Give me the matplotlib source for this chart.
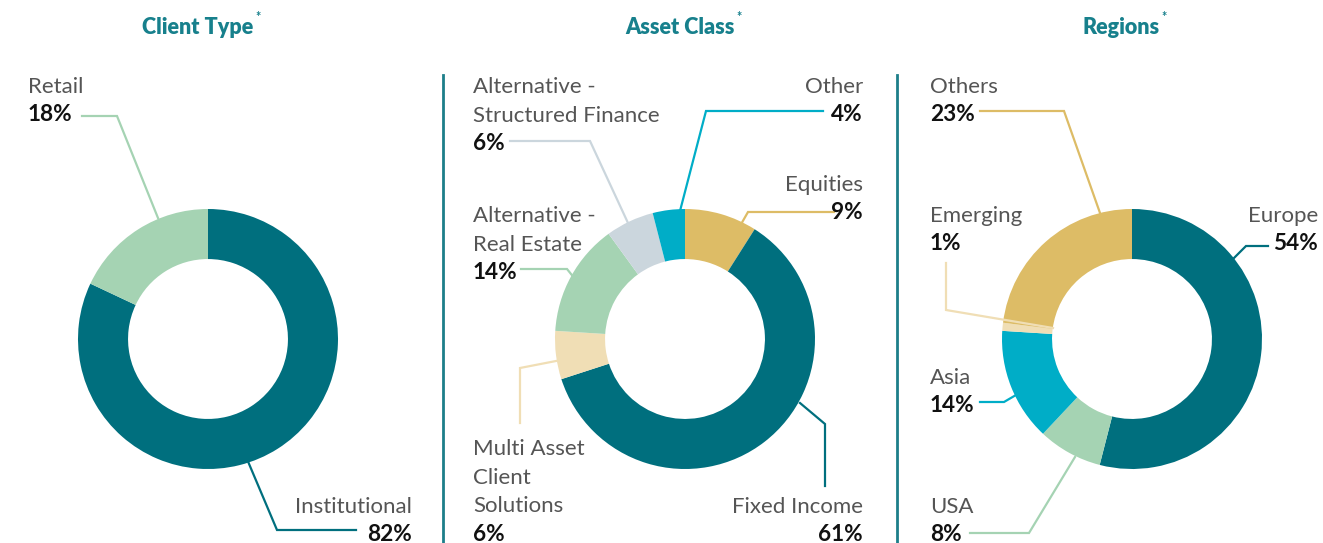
import matplotlib
matplotlib.use("Agg")
import matplotlib.pyplot as plt

W, H = 1323, 543
TEAL = '#006F7E'
GOLD = '#DDBC66'
GREEN = '#A5D3B3'
CYAN = '#00ADC7'
BEIGE = '#F0DEB5'
GREY = '#CBD6DD'

# ---- data ----
client_labels = ['Institutional', 'Retail']
client_values = [82, 18]
client_colors = [TEAL, GREEN]

asset_labels = ['Equities', 'Fixed Income', 'Multi Asset\nClient\nSolutions',
                'Alternative -\nReal Estate', 'Alternative -\nStructured Finance', 'Other']
asset_values = [9, 61, 6, 14, 6, 4]
asset_colors = [GOLD, TEAL, BEIGE, GREEN, GREY, CYAN]

region_labels = ['Europe', 'USA', 'Asia', 'Emerging', 'Others']
region_values = [54, 8, 14, 1, 23]
region_colors = [TEAL, GREEN, CYAN, BEIGE, GOLD]

titles = ['Client Type', 'Asset Class', 'Regions']

# ---- layout (pixel coords, y from top) ----
centers = [(208, 339), (685, 339), (1132, 339)]
R = 130
RING = 0.385
title_x = [198, 680, 1121]
title_y = 27

# label layout: (x, first line y, ha, leader polyline points)
client_layout = [
    (412, 507, 'right', [(244, 452), (277, 530), (356, 530)]),
    (28, 87, 'left', [(158, 218), (117, 116), (82, 116)]),
]
asset_layout = [
    (863, 185, 'right', [(740, 226), (748, 212), (834, 212)]),
    (863, 507, 'right', [(800, 403), (825, 424), (825, 486)]),
    (473, 449, 'left', [(556, 361), (520, 368), (520, 423)]),
    (473, 216, 'left', [(575, 279), (567, 269), (521, 269)]),
    (473, 87, 'left', [(628, 223), (590, 141), (510, 141)]),
    (863, 87, 'right', [(680, 211), (706, 111), (823, 111)]),
]
region_layout = [
    (1318, 216, 'right', [(1234, 258), (1246, 246), (1268, 246)]),
    (930, 507, 'left', [(1075, 457), (1029, 533), (970, 533)]),
    (930, 378, 'left', [(1016, 395), (1004, 402), (980, 402)]),
    (930, 216, 'left', [(1053, 328), (946, 310), (946, 263)]),
    (930, 87, 'left', [(1100, 213), (1064, 111), (980, 111)]),
]

PITCH = 28.7
FS = 16
FS_PCT = 16.3
NAME_COLOR = '#555555'
FONT = 'Lato'

fig = plt.figure(figsize=(W / 100, H / 100), dpi=100)
ax = fig.add_axes([0, 0, 1, 1])


def Y(py):
    return H - py


groups = [
    (client_labels, client_values, client_colors, client_layout),
    (asset_labels, asset_values, asset_colors, asset_layout),
    (region_labels, region_values, region_colors, region_layout),
]

for (labels, values, colors, layout), (cx, cy), title, tx in zip(groups, centers, titles, title_x):
    ax.pie(values, colors=colors, startangle=90, counterclock=False,
           center=(cx, Y(cy)), radius=R,
           wedgeprops=dict(width=R * RING, linewidth=0))
    t = ax.text(tx, Y(title_y), title, ha='center', va='center', fontsize=15.5,
                fontweight='heavy', color='#17808C', family=FONT)
    ax.annotate('*', xy=(1, 1), xycoords=t, xytext=(1, 0), textcoords='offset points',
                ha='left', va='center', fontsize=9, fontweight='bold', color='#17808C', family=FONT)
    for lab, val, col, (lx, ly, ha, pts) in zip(labels, values, colors, layout):
        lines = lab.split('\n')
        for i, line in enumerate(lines):
            ax.text(lx, Y(ly + i * PITCH), line, ha=ha, va='center', fontsize=FS,
                    color=NAME_COLOR, family=FONT)
        ax.text(lx, Y(ly + len(lines) * PITCH - 1), f'{val}%', ha=ha, va='center', fontsize=FS_PCT,
                color='#111111', family=FONT, fontweight='bold')
        xs = [p[0] for p in pts]
        ys = [Y(p[1]) for p in pts]
        ax.plot(xs, ys, color=col, lw=1.6, solid_joinstyle='miter', zorder=1)

# separators
for sx in (443, 897):
    ax.plot([sx, sx], [Y(75), Y(543)], color='#1D7E8A', lw=2.0)

ax.set_xlim(0, W)
ax.set_ylim(0, H)
ax.set_aspect('auto')
ax.axis('off')
fig.savefig('out.png', dpi=100)
